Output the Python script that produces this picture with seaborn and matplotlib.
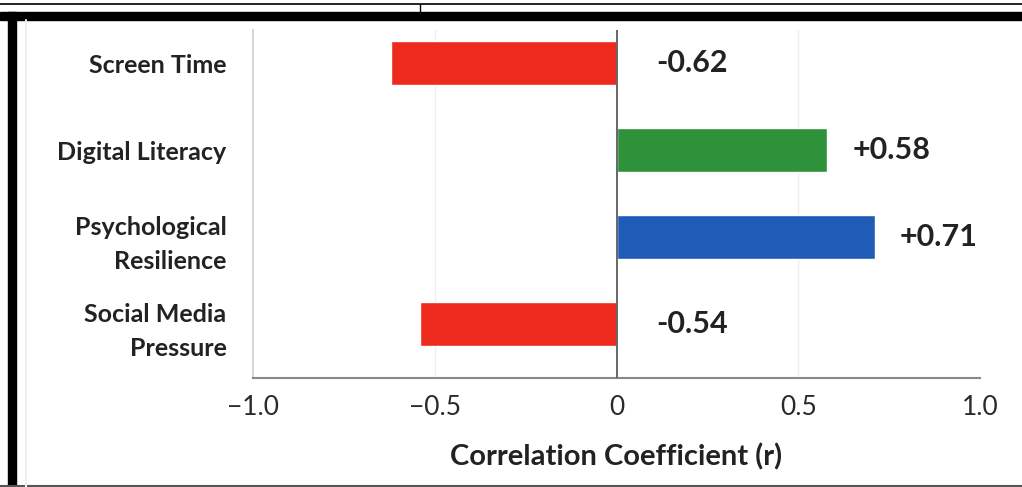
import matplotlib
matplotlib.use("Agg")
import matplotlib.pyplot as plt
import seaborn as sns
import pandas as pd
from matplotlib.patches import Rectangle
from matplotlib.lines import Line2D

# Data
factors = ["Screen Time", "Digital Literacy", "Psychological\nResilience", "Social Media\nPressure"]
correlations = [-0.62, 0.58, 0.71, -0.54]
value_labels = ["-0.62", "+0.58", "+0.71", "-0.54"]
bar_colors = ["#ee2a1f", "#2f9139", "#1f5cb8", "#ee2a1f"]
x_ticks = [-1.0, -0.5, 0.0, 0.5, 1.0]
x_tick_labels = ["\u22121.0", "\u22120.5", "0", "0.5", "1.0"]
x_title = "Correlation Coefficient (r)"

sns.set_theme(style="white")
plt.rcParams["font.family"] = ["Lato", "DejaVu Sans"]

df = pd.DataFrame({"factor": factors, "r": correlations})

fig = plt.figure(figsize=(10.22, 4.87), dpi=100)
fig.patch.set_facecolor("white")
ax = fig.add_axes([253 / 1022, 1 - 378 / 487, (980 - 253) / 1022, (378 - 30) / 487])

sns.barplot(data=df, y="factor", x="r", hue="factor", palette=bar_colors,
            orient="h", width=0.5, legend=False, ax=ax, saturation=1)

ax.set_xlim(-1.0, 1.0)
ax.set_ylim(3.62, -0.38)

# grid and zero line
for g in (-0.5, 0.5):
    ax.axvline(g, color="#eeeeee", lw=1.0, zorder=0)
ax.axvline(0, color="#666666", lw=1.4, zorder=3)

for side in ("top", "right"):
    ax.spines[side].set_visible(False)
ax.spines["left"].set_color("#d8d8d8")
ax.spines["left"].set_linewidth(1.5)
ax.spines["bottom"].set_color("#888888")
ax.spines["bottom"].set_linewidth(1.5)

ax.set_xticks(x_ticks)
ax.set_xticklabels(x_tick_labels, fontsize=19, color="#2a2a2a")
ax.tick_params(axis="x", length=0, pad=12)
ax.tick_params(axis="y", length=0, pad=19)
for lbl in ax.get_yticklabels():
    lbl.set_fontsize(18)
    lbl.set_fontweight("bold")
    lbl.set_color("#222222")
    lbl.set_horizontalalignment("right")
    lbl.set_linespacing(1.55)

ax.set_ylabel("")
ax.set_xlabel(x_title, fontsize=21, fontweight="bold", color="#222222", labelpad=17)

# value labels
for i, (v, txt) in enumerate(zip(correlations, value_labels)):
    x = 0.11 if v < 0 else v + 0.07
    ax.text(x, i, txt, va="center", ha="left", fontsize=22, fontweight="bold", color="#222222")

# frame decoration
fig.add_artist(Line2D([0, 1], [1 - 4 / 487, 1 - 4 / 487], color="black", lw=1.2, transform=fig.transFigure))
fig.add_artist(Line2D([420 / 1022, 420 / 1022], [1 - 4 / 487, 1 - 12 / 487], color="black", lw=1.0, transform=fig.transFigure))
fig.add_artist(Rectangle((0, 1 - 20 / 487), 1, 8 / 487, color="black", transform=fig.transFigure))
fig.add_artist(Rectangle((8 / 1022, 0), 8 / 1022, 1 - 12 / 487, color="black", transform=fig.transFigure))
fig.add_artist(Line2D([0, 1], [1.5 / 487, 1.5 / 487], color="#555555", lw=1.5, transform=fig.transFigure))
fig.add_artist(Line2D([26 / 1022, 26 / 1022], [0, 1 - 20 / 487], color="#eeeeee", lw=1.5, transform=fig.transFigure))

fig.savefig("out.png", dpi=100)
